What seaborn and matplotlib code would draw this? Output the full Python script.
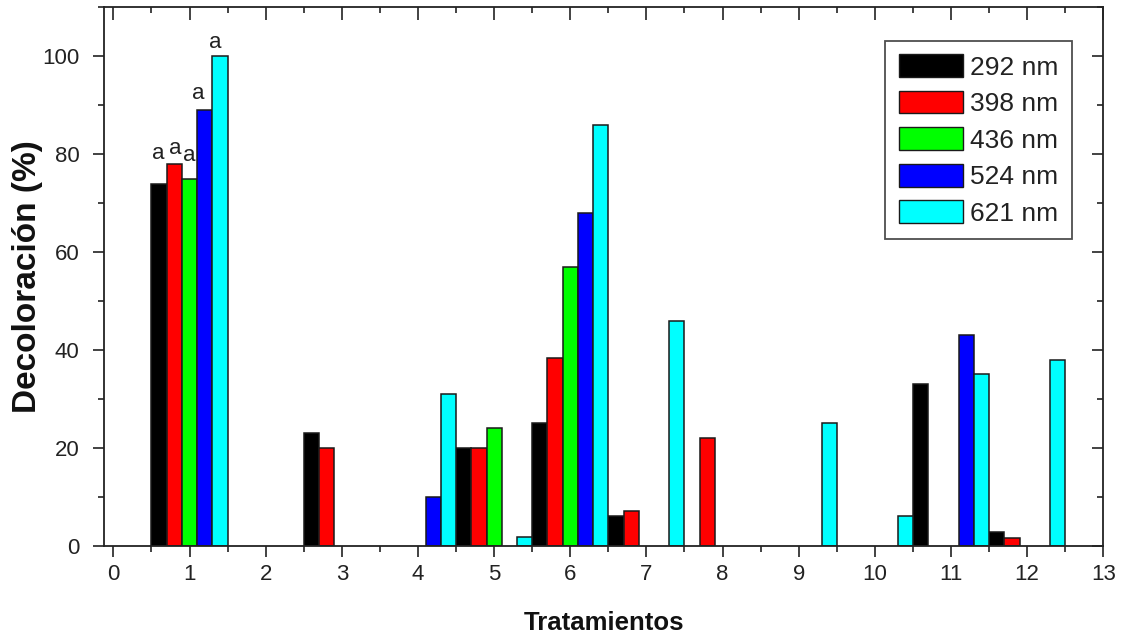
import numpy as np
import pandas as pd
import matplotlib
matplotlib.use("Agg")
import matplotlib.pyplot as plt
from matplotlib import font_manager
from matplotlib.patches import Patch
from matplotlib.ticker import MultipleLocator
import seaborn as sns

nan = np.nan

# Decolouration (%) per treatment, one list per wavelength (NaN = not measured)
treatments = [1, 2, 3, 4, 5, 6, 7, 8, 9, 10, 11, 12]
nm_292 = [74, nan, 23, nan, 20, 25, 6, nan, nan, nan, 33, 2.7]
nm_398 = [78, nan, 20, nan, 20, 38.3, 7, 22, nan, nan, nan, 1.6]
nm_436 = [75, nan, nan, nan, 24, 57, nan, nan, nan, nan, nan, nan]
nm_524 = [89, nan, nan, 10, nan, 68, nan, nan, nan, nan, 43, nan]
nm_621 = [100, nan, nan, 31, 1.8, 86, 46, nan, 25, 6, 35, 38]

wavelengths = ["292 nm", "398 nm", "436 nm", "524 nm", "621 nm"]
colors = ["#000000", "#ff0000", "#00ff00", "#0000ff", "#00ffff"]

# significance letters for the first treatment
letters_t1 = ["a", "a", "a", "a", "a"]

series = [nm_292, nm_398, nm_436, nm_524, nm_621]
rows = []
for wl, vals in zip(wavelengths, series):
    for t, v in zip(treatments, vals):
        rows.append({"Tratamiento": t, "Longitud": wl, "Decoloracion": v})
df = pd.DataFrame(rows).dropna()

sns.set_style("ticks")
names = {f.name for f in font_manager.fontManager.ttflist}
narrow = "Liberation Sans Narrow" if "Liberation Sans Narrow" in names else "Liberation Sans"
plt.rcParams["font.family"] = [narrow, "DejaVu Sans"]

fig = plt.figure(figsize=(11.21, 6.41), dpi=100)
ax = fig.add_axes([0.0930, 0.1487, 0.8912, 0.8396])

sns.barplot(
    data=df, x="Tratamiento", y="Decoloracion", hue="Longitud",
    hue_order=wavelengths, palette=colors, native_scale=True,
    width=1.0, dodge=True, saturation=1, errorbar=None,
    edgecolor="#1a1a1a", linewidth=1.1, legend=False, ax=ax,
)

ax.set_xlim(-0.12, 13.0)
ax.set_ylim(0, 110)
ax.xaxis.set_major_locator(MultipleLocator(1))
ax.xaxis.set_minor_locator(MultipleLocator(0.5))
ax.yaxis.set_major_locator(MultipleLocator(20))
ax.yaxis.set_minor_locator(MultipleLocator(10))
ax.set_xticks(range(0, 14))
ax.set_xticklabels([str(i) for i in range(0, 14)])
ax.set_yticks([0, 20, 40, 60, 80, 100])

ax.tick_params(axis="both", which="major", direction="out", length=8,
               width=1.2, color="#222222", labelsize=16, labelcolor="#222222")
ax.tick_params(axis="both", which="minor", direction="out", length=4,
               width=1.2, color="#222222")
ax.tick_params(axis="x", which="major", pad=5)
ax.tick_params(axis="y", which="major", pad=10)

for s in ax.spines.values():
    s.set_visible(True)
    s.set_linewidth(1.3)
    s.set_color("#222222")

# mirrored ticks on top and right, pointing inward
top = ax.secondary_xaxis("top")
top.xaxis.set_major_locator(MultipleLocator(1))
top.xaxis.set_minor_locator(MultipleLocator(0.5))
top.tick_params(axis="x", which="major", direction="in", length=9, width=1.2,
                color="#222222", labeltop=False)
top.tick_params(axis="x", which="minor", direction="in", length=4, width=1.2,
                color="#222222")
top.spines["top"].set_visible(False)
right = ax.secondary_yaxis("right")
right.yaxis.set_major_locator(MultipleLocator(20))
right.yaxis.set_minor_locator(MultipleLocator(10))
right.tick_params(axis="y", which="major", direction="in", length=8, width=1.2,
                  color="#222222", labelright=False)
right.tick_params(axis="y", which="minor", direction="in", length=4, width=1.2,
                  color="#222222")
right.spines["right"].set_visible(False)

ax.set_xlabel("Tratamientos", fontsize=18.5, fontweight="bold",
              family=["Liberation Sans", "DejaVu Sans"], color="#111111")
ax.xaxis.label.set_va("center")
ax.xaxis.set_label_coords(0.5, -0.143)
ax.set_ylabel("Decoloración (%)", fontsize=24, fontweight="bold",
              family=["Liberation Sans", "DejaVu Sans"], color="#111111")
ax.yaxis.label.set_va("center")
ax.yaxis.set_label_coords(-0.077, 0.5)

# letters above the first-treatment bars
letter_offsets = [(-0.01, 4.0), (0.01, 1.0), (-0.01, 2.7), (-0.09, 1.2), (-0.06, 0.7)]
for cont, letter, (dx, dy) in zip(ax.containers, letters_t1, letter_offsets):
    bar = cont.patches[0]
    xc = bar.get_x() + bar.get_width() / 2
    ax.text(xc + dx, bar.get_height() + dy, letter, ha="center", va="bottom",
            fontsize=16, color="#222222")

handles = [Patch(facecolor=c, edgecolor="#1a1a1a", linewidth=1.0) for c in colors]
leg = ax.legend(
    handles, wavelengths, loc="upper right",
    bbox_to_anchor=(1072 / 1121, 1 - 41 / 641), bbox_transform=fig.transFigure,
    borderaxespad=0, fontsize=19, frameon=True, fancybox=False, shadow=False,
    handlelength=2.42, handleheight=0.95, labelspacing=0.42, handletextpad=0.3,
    borderpad=0.5,
)
leg.get_frame().set_edgecolor("#222222")
leg.get_frame().set_linewidth(1.3)
for t in leg.get_texts():
    t.set_color("#222222")

fig.savefig("out.png", dpi=100, facecolor="white")
